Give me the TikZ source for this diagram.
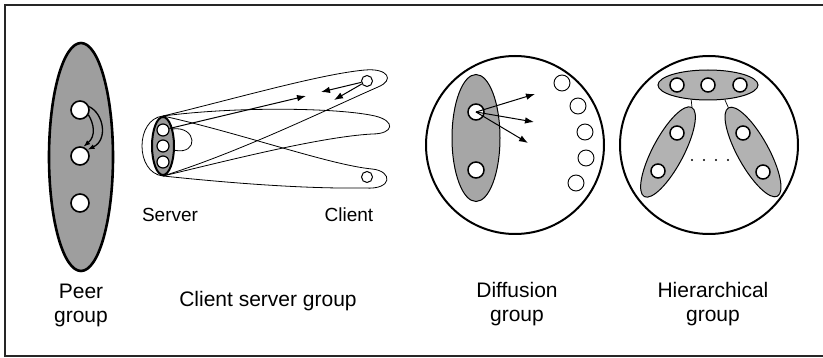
\documentclass[tikz,border=0pt]{standalone}
\usepackage{fontspec}
\setmainfont{Liberation Sans}
\usetikzlibrary{arrows.meta,shapes.geometric}

\begin{document}
\begin{tikzpicture}[x=1pt,y=-1pt,
  frame/.style={line width=1.4pt, draw=black!85},
  lbl/.style={font=\fontsize{21}{24}\selectfont, inner sep=0pt, anchor=base},
  sublbl/.style={font=\fontsize{19}{22}\selectfont, inner sep=0pt, anchor=base},
  grp/.style={ellipse, draw, inner sep=0pt},
  bigring/.style={circle, draw, line width=2pt, minimum size=178pt, inner sep=0pt},
  member/.style={circle, draw, fill=white, inner sep=0pt},
  thin/.style={line width=0.8pt},
  arr/.style={line width=1pt, -{Latex[length=9pt,width=6.5pt]}},
  parr/.style={line width=1.3pt, -{Latex[length=7pt,width=5pt]}},
  dot/.style={circle, fill=black, inner sep=0pt, minimum size=2.2pt}
]
\useasboundingbox (0,0) rectangle (823,358);

% outer frame (open on the right)
\draw[frame] (823,5) -- (5,5) -- (5,356) -- (823,356);

% ---------------- peer group ----------------
\node[grp, fill=black!38, line width=2.6pt, minimum width=64pt, minimum height=228pt] (peer) at (81,157) {};
\node[member, line width=1.6pt, minimum size=18pt] (p1) at (80,110) {};
\node[member, line width=1.6pt, minimum size=18pt] (p2) at (80,156) {};
\node[member, line width=1.6pt, minimum size=18pt] (p3) at (80,203) {};
\draw[parr] (p1.20) .. controls (104,114) and (108,140) .. (p2.40);
\draw[parr] (p1.-30) .. controls (94,124) and (96,136) .. (p2.70);
\node[lbl] (peerA) at (81,299) {Peer};
\node[lbl] (peerB) at (81,323) {group};

% ---------------- client server group ----------------
\node[grp, fill=black!40, line width=2pt, minimum width=22pt, minimum height=58pt] (srv) at (163,146) {};
\node[member, line width=1.2pt, minimum size=12pt] (s1) at (163,130) {};
\node[member, line width=1.2pt, minimum size=12pt] (s2) at (163,146) {};
\node[member, line width=1.2pt, minimum size=12pt] (s3) at (163,162) {};
\node[member, line width=1pt, minimum size=11pt] (ca) at (367,81) {};
\node[member, line width=1pt, minimum size=11pt] (cc) at (367,177) {};

% rounded ends of the client groups around the server
\draw[thin] (srv.north) .. controls (135,119) and (135,173) .. (srv.south);
\draw[thin] (srv.60) .. controls (197,126) and (199,155) .. (srv.-20);
% client group loops
\draw[thin] (srv.north) .. controls (230,100) and (320,74) .. (365,70)
   .. controls (388,68) and (395,80) .. (378,87)
   .. controls (330,108) and (240,152) .. (srv.south);
\draw[thin] (srv.north) .. controls (240,106) and (340,108) .. (375,116)
   .. controls (396,121) and (394,134) .. (372,134)
   .. controls (320,137) and (230,160) .. (srv.south);
\draw[thin] (srv.north) .. controls (240,133) and (330,165) .. (372,169)
   .. controls (393,171) and (393,190) .. (365,188)
   .. controls (300,189) and (220,182) .. (srv.south);

\coordinate (sa) at (306,96);
\coordinate (ra) at (321,92);
\coordinate (rb) at (334,100);
\draw[arr] (s1) -- (sa);
\draw[arr] (ca) -- (ra);
\draw[arr] (ca) -- (rb);

\node[sublbl] (srvl) at (170,222) {Server};
\node[sublbl] (clil) at (349,222) {Client};
\node[lbl] (csl) at (268,307) {Client server group};

% ---------------- diffusion group ----------------
\node[bigring] (diff) at (515,145) {};
\node[grp, fill=black!35, line width=1pt, minimum width=48pt, minimum height=127pt] (dcore) at (476,138) {};
\node[member, line width=1.5pt, minimum size=16pt] (d1) at (476,112) {};
\node[member, line width=1.5pt, minimum size=16pt] (d2) at (476,170) {};
\node[member, line width=0.9pt, minimum size=16pt] (e1) at (562,83) {};
\node[member, line width=0.9pt, minimum size=16pt] (e2) at (578,106) {};
\node[member, line width=0.9pt, minimum size=16pt] (e3) at (585,132) {};
\node[member, line width=0.9pt, minimum size=16pt] (e4) at (586,158) {};
\node[member, line width=0.9pt, minimum size=16pt] (e5) at (576,183) {};
\coordinate (da) at (535,94);
\coordinate (db) at (534,122);
\coordinate (dc) at (528,143);
\draw[arr] (d1.center) -- (da);
\draw[arr] (d1.center) -- (db);
\draw[arr] (d1.center) -- (dc);
\node[lbl] (diffA) at (517,298) {Diffusion};
\node[lbl] (diffB) at (517,322) {group};

% ---------------- hierarchical group ----------------
\node[bigring] (hier) at (709,145) {};
\node[grp, fill=black!30, line width=1pt, minimum width=100pt, minimum height=30pt] (htop) at (708,85) {};
\node[grp, fill=black!30, line width=1pt, minimum width=101pt, minimum height=31pt, rotate=62] (hleft) at (668,152) {};
\node[grp, fill=black!30, line width=1pt, minimum width=101pt, minimum height=31pt, rotate=119] (hright) at (753,152) {};
\node[member, line width=1.5pt, minimum size=14pt] (h1) at (677,85) {};
\node[member, line width=1.5pt, minimum size=14pt] (h2) at (708,85) {};
\node[member, line width=1.5pt, minimum size=14pt] (h3) at (740,85) {};
\node[member, line width=1.5pt, minimum size=14pt] (h4) at (677,133) {};
\node[member, line width=1.5pt, minimum size=14pt] (h5) at (658,171) {};
\node[member, line width=1.5pt, minimum size=14pt] (h6) at (743,133) {};
\node[member, line width=1.5pt, minimum size=14pt] (h7) at (763,172) {};
\draw[line width=0.7pt] (htop.221) -- (hleft.east);
\draw[line width=0.7pt] (htop.319) -- (hright.east);
\node[dot] (dt1) at (692,160) {};
\node[dot] (dt2) at (704,160) {};
\node[dot] (dt3) at (716,160) {};
\node[dot] (dt4) at (728,160) {};
\node[lbl] (hierA) at (713,298) {Hierarchical};
\node[lbl] (hierB) at (713,322) {group};
\end{tikzpicture}
\end{document}
